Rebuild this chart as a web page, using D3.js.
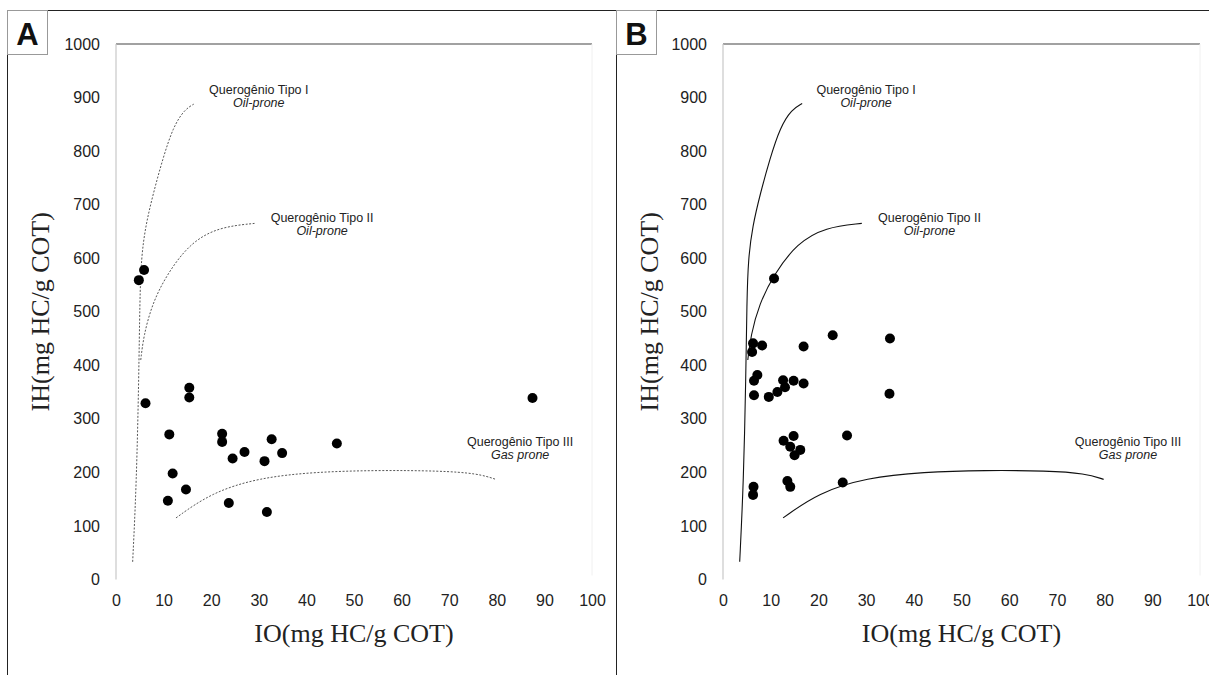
<!DOCTYPE html>
<html>
<head>
<meta charset="utf-8">
<script src="https://cdn.jsdelivr.net/npm/d3@7"></script>
<style>
  html, body { margin: 0; padding: 0; background: #fff; }
  svg { display: block; }
</style>
</head>
<body>
<div id="chart"></div>
<script>
// Van Krevelen style diagrams (IH x IO), panels A and B

const xTicks = [0, 10, 20, 30, 40, 50, 60, 70, 80, 90, 100];
const yTicks = [0, 100, 200, 300, 400, 500, 600, 700, 800, 900, 1000];

// Kerogen boundary curves [IO, IH] (control points, smoothed when drawn)
const curveTipoI = [[3.5, 33], [4.3, 180], [4.8, 380], [5.0, 520], [5.3, 600], [6.2, 660],
  [7.8, 720], [9.8, 785], [12.0, 845], [14.4, 878], [16.6, 889]];
const curveTipoII = [[5.2, 410], [5.8, 455], [7.6, 515], [10.7, 570], [15.5, 628], [21.5, 658], [29.1, 665]];
const curveTipoIII = [[12.6, 115], [20.0, 162], [30.0, 190], [42.0, 201], [55, 204], [68, 203], [76.0, 198], [79.8, 187]];

// Samples, panel A [IO, IH]
const samplesA = [
  [4.8, 559], [5.9, 578], [6.2, 329], [15.4, 358], [15.4, 340], [11.2, 271], [22.3, 272], [22.3, 257],
  [32.7, 262], [46.4, 254], [87.5, 339], [27.0, 238], [24.5, 226], [31.2, 221], [34.9, 236],
  [11.9, 198], [14.7, 168], [10.9, 147], [23.7, 143], [31.7, 126]
];

// Samples, panel B [IO, IH]
const samplesB = [
  [10.7, 562], [6.3, 441], [8.2, 437], [6.1, 425], [16.9, 435], [23.0, 456], [35.0, 450],
  [7.2, 382], [6.5, 371], [6.5, 344], [9.6, 341], [11.4, 350], [12.6, 372], [13.0, 359],
  [14.8, 371], [16.9, 366], [34.9, 347], [12.7, 259], [14.8, 268], [14.1, 248], [16.2, 242],
  [15.0, 232], [26.0, 269], [25.1, 181], [13.5, 184], [14.1, 173], [6.4, 173], [6.3, 158]
];

// Curve labels: title, subtitle, anchor [IO, IH]
const curveLabels = [
  { title: 'Querogênio Tipo I', sub: 'Oil-prone', at: [30.0, 907] },
  { title: 'Querogênio Tipo II', sub: 'Oil-prone', at: [43.3, 668] },
  { title: 'Querogênio Tipo III', sub: 'Gas prone', at: [84.9, 249] }
];

const xTitle = 'IO(mg HC/g COT)';
const yTitle = 'IH(mg HC/g COT)';

const W = 1209, H = 675;

const svg = d3.select('#chart').append('svg')
  .attr('width', W).attr('height', H)
  .attr('viewBox', `0 0 ${W} ${H}`);

// outer frame top line
svg.append('line').attr('x1', 7.5).attr('x2', W).attr('y1', 10.5).attr('y2', 10.5)
  .attr('stroke', '#222').attr('stroke-width', 1);

function drawPanel(cfg) {
  const g = svg.append('g');
  const x = d3.scaleLinear().domain([0, 100]).range([cfg.x0, cfg.x1]);
  const y = d3.scaleLinear().domain([0, 1000]).range([579.5, 44]);

  // panel left border + letter box
  g.append('line').attr('x1', cfg.left).attr('x2', cfg.left).attr('y1', 10.5).attr('y2', H)
    .attr('stroke', '#222').attr('stroke-width', 1);
  g.append('rect').attr('x', cfg.left).attr('y', 10.5).attr('width', 40).attr('height', 44)
    .attr('fill', '#fff').attr('stroke', '#999').attr('stroke-width', 1);
  g.append('text').attr('x', cfg.left + 20).attr('y', 45)
    .attr('text-anchor', 'middle')
    .attr('font-family', 'Liberation Sans, Arial, sans-serif')
    .attr('font-weight', 'bold').attr('font-size', 31)
    .attr('fill', '#111').text(cfg.letter);

  // plot frame: top line dark, left axis light, right faint
  g.append('line').attr('x1', x(0)).attr('x2', x(100)).attr('y1', y(1000)).attr('y2', y(1000))
    .attr('stroke', '#444').attr('stroke-width', 1.2);
  g.append('line').attr('x1', x(0)).attr('x2', x(0)).attr('y1', y(1000)).attr('y2', y(0))
    .attr('stroke', '#c8c8c8').attr('stroke-width', 1.2);
  g.append('line').attr('x1', x(100)).attr('x2', x(100)).attr('y1', y(1000)).attr('y2', y(0) - 4)
    .attr('stroke', '#f0f0f0').attr('stroke-width', 1);

  // axes (labels only)
  const yAxis = g.append('g').attr('transform', `translate(${x(0)},0)`)
    .call(d3.axisLeft(y).tickValues(yTicks).tickFormat(d3.format('d')).tickSize(0).tickPadding(16));
  const xAxis = g.append('g').attr('transform', `translate(0,${y(0) + 13})`)
    .call(d3.axisBottom(x).tickValues(xTicks).tickFormat(d3.format('d')).tickSize(0).tickPadding(2));
  [yAxis, xAxis].forEach(a => {
    a.select('.domain').remove();
    a.selectAll('text')
      .attr('font-family', 'Liberation Sans, Arial, sans-serif')
      .attr('font-size', 16).attr('fill', '#222');
  });

  // axis titles
  g.append('text')
    .attr('x', (x(0) + x(100)) / 2).attr('y', 642)
    .attr('text-anchor', 'middle')
    .attr('font-family', 'Liberation Serif, Times New Roman, serif')
    .attr('font-size', 26).attr('fill', '#222')
    .text(xTitle);
  g.append('text')
    .attr('transform', `translate(${cfg.left + 41},${(y(0) + y(1000)) / 2}) rotate(-90)`)
    .attr('text-anchor', 'middle')
    .attr('font-family', 'Liberation Serif, Times New Roman, serif')
    .attr('font-size', 26).attr('fill', '#222')
    .text(yTitle);

  // kerogen curves
  const line = d3.line().x(d => x(d[0])).y(d => y(d[1])).curve(d3.curveBasis);
  [curveTipoI, curveTipoII, curveTipoIII].forEach(c => {
    g.append('path').datum(c).attr('d', line)
      .attr('fill', 'none')
      .attr('stroke', cfg.dashed ? '#444' : '#111')
      .attr('stroke-width', cfg.dashed ? 0.9 : 1.1)
      .attr('stroke-dasharray', cfg.dashed ? '2,1.6' : null);
  });

  // curve labels
  curveLabels.forEach(l => {
    const t = g.append('text').attr('text-anchor', 'middle')
      .attr('font-family', 'Liberation Sans, Arial, sans-serif')
      .attr('font-size', 12.5).attr('fill', '#222');
    t.append('tspan').attr('x', x(l.at[0])).attr('y', y(l.at[1])).text(l.title);
    t.append('tspan').attr('x', x(l.at[0])).attr('dy', 13).attr('font-style', 'italic').text(l.sub);
  });

  // samples
  g.selectAll('circle.pt').data(cfg.samples).join('circle')
    .attr('class', 'pt')
    .attr('cx', d => x(d[0])).attr('cy', d => y(d[1]))
    .attr('r', 5).attr('fill', '#000');
}

drawPanel({ letter: 'A', left: 7.5, x0: 116, x1: 592, samples: samplesA, dashed: true });
drawPanel({ letter: 'B', left: 616.5, x0: 723, x1: 1200, samples: samplesB, dashed: false });
</script>
</body>
</html>
